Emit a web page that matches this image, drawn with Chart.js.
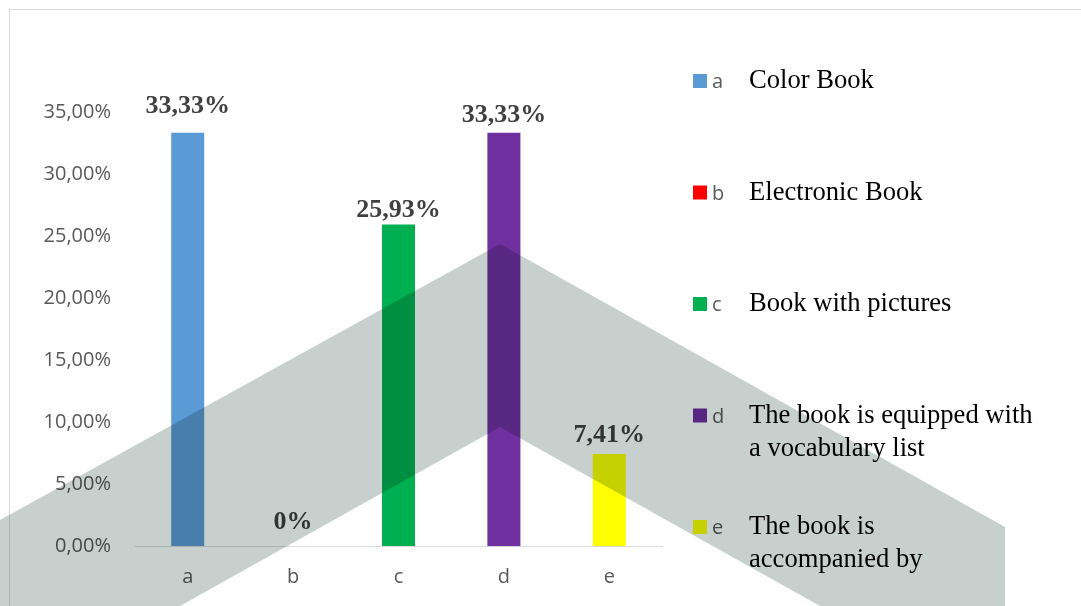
<!DOCTYPE html>
<html>
<head>
<meta charset="utf-8">
<script src="https://cdn.jsdelivr.net/npm/chart.js@4/dist/chart.umd.min.js"></script>
<style>
  html, body { margin: 0; padding: 0; background: #ffffff; }
  #wrap { width: 1081px; height: 606px; position: relative; overflow: hidden; }
  canvas { display: block; }
</style>
</head>
<body>
<div id="wrap"><canvas id="c" width="1081" height="606"></canvas></div>
<script>
// ---- data ----
const categories = ['a', 'b', 'c', 'd', 'e'];
const values = [33.33, 0, 25.93, 33.33, 7.41];
const legendTexts = [
  ['Color Book'],
  ['Electronic Book'],
  ['Book with pictures'],
  ['The book is equipped with', 'a vocabulary list'],
  ['The book is', 'accompanied by']
];
const yTickMin = 0, yTickMax = 35, yTickStep = 5;

// ---- styles ----
const barColors = ['#5B9BD5', '#FF0000', '#00B050', '#7030A0', '#FFFF00'];
const labelLift = [20, 17, 7, 11, 12];

function fmtPct(v, digits) {
  if (v === 0 && digits === null) return '0%';
  return v.toFixed(digits === null ? 2 : digits).replace('.', ',') + '%';
}

const framePlugin = {
  id: 'frame',
  beforeDraw(chart) {
    const ctx = chart.ctx;
    ctx.save();
    ctx.fillStyle = '#ffffff';
    ctx.fillRect(0, 0, chart.width, chart.height);
    ctx.strokeStyle = '#D9D9D9';
    ctx.lineWidth = 1;
    ctx.strokeRect(9.5, 9.5, chart.width + 20, chart.height + 20);
    ctx.restore();
  }
};

const valueLabelPlugin = {
  id: 'valueLabels',
  afterDatasetsDraw(chart) {
    const ctx = chart.ctx;
    const meta = chart.getDatasetMeta(0);
    ctx.save();
    ctx.font = 'bold 26px "Liberation Serif", "Times New Roman", serif';
    ctx.fillStyle = '#404040';
    ctx.textAlign = 'center';
    ctx.textBaseline = 'alphabetic';
    meta.data.forEach((bar, i) => {
      const v = values[i];
      ctx.fillText(fmtPct(v, null), bar.x, bar.y - labelLift[i]);
    });
    ctx.restore();
  }
};

const sideLegendPlugin = {
  id: 'sideLegend',
  afterDatasetsDraw(chart) {
    const ctx = chart.ctx;
    const x0 = 693, y0 = 81, gap = 111.5, box = 14;
    ctx.save();
    categories.forEach((cat, i) => {
      const cy = y0 + gap * i;
      ctx.fillStyle = barColors[i];
      ctx.fillRect(x0, cy - box / 2, box, box);
      ctx.fillStyle = '#595959';
      ctx.font = '20px "Open Sans", sans-serif';
      ctx.textAlign = 'left';
      ctx.textBaseline = 'alphabetic';
      ctx.fillText(cat, x0 + 19, cy + 7);
      ctx.fillStyle = '#000000';
      ctx.font = '26.6px "Liberation Serif", "Times New Roman", serif';
      legendTexts[i].forEach((line, j) => {
        ctx.fillText(line, x0 + 56, cy + 7 + j * 33);
      });
    });
    ctx.restore();
  }
};

const watermarkPlugin = {
  id: 'watermark',
  afterDraw(chart) {
    const ctx = chart.ctx;
    ctx.save();
    ctx.globalCompositeOperation = 'multiply';
    ctx.fillStyle = '#C7D0CD';
    ctx.beginPath();
    ctx.moveTo(0, 520);
    ctx.lineTo(500, 244);
    ctx.lineTo(1005, 527);
    ctx.lineTo(1005, 606);
    ctx.lineTo(820, 606);
    ctx.lineTo(500, 427);
    ctx.lineTo(180, 606);
    ctx.lineTo(0, 606);
    ctx.closePath();
    ctx.fill();
    ctx.restore();
  }
};

new Chart(document.getElementById('c'), {
  type: 'bar',
  data: {
    labels: categories,
    datasets: [{
      data: values,
      backgroundColor: barColors,
      borderWidth: 0,
      categoryPercentage: 1,
      barPercentage: 0.313
    }]
  },
  options: {
    responsive: false,
    animation: false,
    devicePixelRatio: 1,
    layout: { padding: { left: 0, right: 419, top: 112, bottom: 0 } },
    plugins: {
      legend: { display: false },
      tooltip: { enabled: false },
      title: { display: false }
    },
    scales: {
      x: {
        grid: { display: false, drawTicks: false },
        border: { display: true, color: '#D9D9D9', width: 1 },
        ticks: {
          color: '#595959',
          font: { family: '"Open Sans", sans-serif', size: 20 },
          padding: 19
        },
        afterFit(scale) { scale.height = 60; }
      },
      y: {
        min: yTickMin,
        max: yTickMax,
        grid: { display: false, drawTicks: false },
        border: { display: false },
        ticks: {
          stepSize: yTickStep,
          color: '#595959',
          font: { family: '"Open Sans", sans-serif', size: 20 },
          padding: 24,
          callback: (v) => fmtPct(v, 2)
        },
        afterFit(scale) { scale.width = 135; }
      }
    }
  },
  plugins: [framePlugin, valueLabelPlugin, sideLegendPlugin, watermarkPlugin]
});
</script>
</body>
</html>
